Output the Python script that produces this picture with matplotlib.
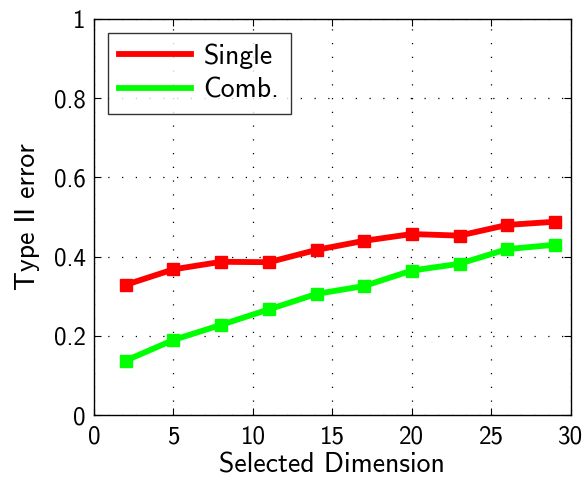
import matplotlib
matplotlib.use("Agg")
import matplotlib.pyplot as plt

x = [2, 5, 8, 11, 14, 17, 20, 23, 26, 29]
single = [0.329, 0.368, 0.387, 0.386, 0.417, 0.440, 0.457, 0.453, 0.480, 0.488]
comb = [0.138, 0.190, 0.228, 0.267, 0.306, 0.326, 0.365, 0.382, 0.419, 0.430]

plt.rcParams['font.family'] = ['cmss10', 'DejaVu Sans']
plt.rcParams['axes.formatter.use_mathtext'] = True

fig = plt.figure(figsize=(5.85, 4.79), dpi=100)
ax = fig.add_axes([0.1607, 0.133, 0.815, 0.828])
ax.plot(x, single, color='#ff0000', lw=4.2, marker='s', ms=9, label='Single')
ax.plot(x, comb, color='#00ff00', lw=4.2, marker='s', ms=9, label='Comb.')
ax.set_xlim(0, 30)
ax.set_ylim(0, 1)
ax.set_xticks([0, 5, 10, 15, 20, 25, 30])
ax.set_yticks([0, 0.2, 0.4, 0.6, 0.8, 1])
ax.set_yticklabels(['0', '0.2', '0.4', '0.6', '0.8', '1'])
ax.set_xticklabels(['0', '5', '10', '15', '20', '25', '30'])
ax.tick_params(direction='in', labelsize=18, length=5, top=True, right=True)
ax.tick_params(axis='x', pad=7)
ax.tick_params(axis='y', pad=6)
ax.grid(True, linestyle=(0, (1, 10)), color='black', lw=0.9)
ax.set_xlabel('Selected Dimension', fontsize=20, labelpad=3)
ax.set_ylabel('Type II error', fontsize=20, labelpad=10)
for s in ax.spines.values():
    s.set_linewidth(1.0)
leg = ax.legend(loc='upper left', fontsize=20, frameon=True, fancybox=False,
                edgecolor='black', handlelength=2.6, borderaxespad=0.5,
                labelspacing=0.3, handletextpad=0.45, borderpad=0.4)
for h in leg.legend_handles:
    h.set_marker('')
leg.get_frame().set_linewidth(1.0)
fig.savefig('out.png', dpi=100)
